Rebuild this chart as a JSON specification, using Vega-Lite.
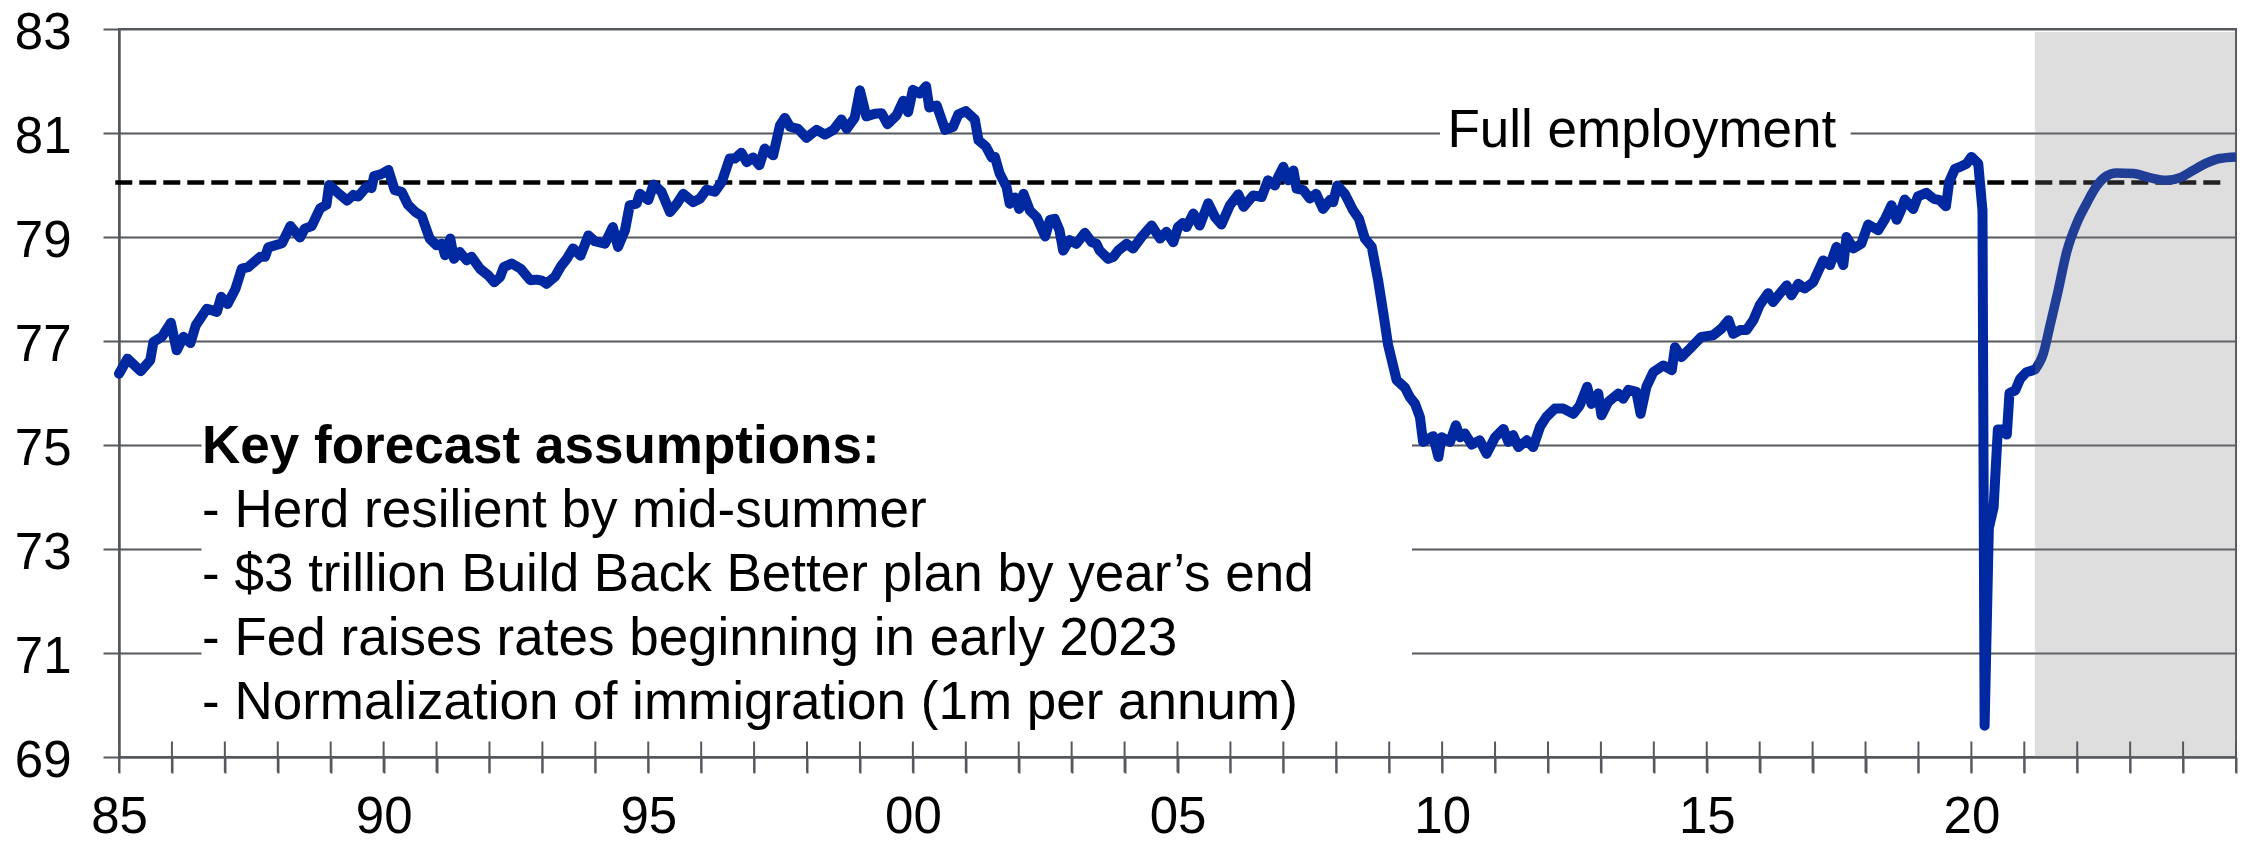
{
  "$schema": "https://vega.github.io/schema/vega-lite/v6.json",
  "width": 2117,
  "height": 728,
  "autosize": {"type": "none"},
  "padding": {"left": 119, "top": 29, "right": 16, "bottom": 86},
  "background": "white",
  "config": {"view": {"stroke": "#55595e", "strokeWidth": 2}, "font": "Liberation Sans"},
  "datasets": {
    "epop": [
      {"t":1985.0,"v":76.37},{"t":1985.16,"v":76.66},{"t":1985.41,"v":76.42},{"t":1985.59,"v":76.63},{"t":1985.65,"v":76.98},{"t":1985.81,"v":77.08},{"t":1985.98,"v":77.35},{"t":1986.09,"v":76.82},{"t":1986.22,"v":77.08},{"t":1986.35,"v":76.96},{"t":1986.45,"v":77.3},{"t":1986.66,"v":77.62},{"t":1986.85,"v":77.56},{"t":1986.93,"v":77.85},{"t":1987.05,"v":77.71},{"t":1987.2,"v":78.0},{"t":1987.32,"v":78.39},{"t":1987.44,"v":78.42},{"t":1987.67,"v":78.62},{"t":1987.76,"v":78.62},{"t":1987.82,"v":78.8},{"t":1988.08,"v":78.88},{"t":1988.24,"v":79.21},{"t":1988.42,"v":78.99},{"t":1988.51,"v":79.16},{"t":1988.64,"v":79.21},{"t":1988.8,"v":79.55},{"t":1988.92,"v":79.62},{"t":1988.97,"v":80.0},{"t":1989.11,"v":79.87},{"t":1989.31,"v":79.7},{"t":1989.43,"v":79.81},{"t":1989.52,"v":79.78},{"t":1989.68,"v":79.97},{"t":1989.77,"v":79.94},{"t":1989.82,"v":80.17},{"t":1989.96,"v":80.21},{"t":1990.09,"v":80.29},{"t":1990.21,"v":79.9},{"t":1990.34,"v":79.87},{"t":1990.46,"v":79.62},{"t":1990.59,"v":79.49},{"t":1990.72,"v":79.4},{"t":1990.87,"v":78.97},{"t":1991.0,"v":78.84},{"t":1991.1,"v":78.87},{"t":1991.16,"v":78.65},{"t":1991.26,"v":78.97},{"t":1991.33,"v":78.58},{"t":1991.44,"v":78.71},{"t":1991.57,"v":78.55},{"t":1991.66,"v":78.62},{"t":1991.82,"v":78.39},{"t":1991.98,"v":78.26},{"t":1992.09,"v":78.13},{"t":1992.2,"v":78.23},{"t":1992.27,"v":78.42},{"t":1992.42,"v":78.49},{"t":1992.59,"v":78.39},{"t":1992.77,"v":78.17},{"t":1992.89,"v":78.18},{"t":1992.99,"v":78.16},{"t":1993.08,"v":78.1},{"t":1993.24,"v":78.24},{"t":1993.36,"v":78.45},{"t":1993.46,"v":78.58},{"t":1993.58,"v":78.78},{"t":1993.72,"v":78.64},{"t":1993.87,"v":79.03},{"t":1993.99,"v":78.92},{"t":1994.18,"v":78.87},{"t":1994.33,"v":79.19},{"t":1994.43,"v":78.81},{"t":1994.56,"v":79.13},{"t":1994.65,"v":79.61},{"t":1994.78,"v":79.64},{"t":1994.84,"v":79.83},{"t":1995.0,"v":79.71},{"t":1995.1,"v":80.01},{"t":1995.25,"v":79.87},{"t":1995.41,"v":79.48},{"t":1995.54,"v":79.64},{"t":1995.66,"v":79.83},{"t":1995.85,"v":79.67},{"t":1995.98,"v":79.74},{"t":1996.1,"v":79.91},{"t":1996.26,"v":79.87},{"t":1996.39,"v":80.06},{"t":1996.54,"v":80.51},{"t":1996.64,"v":80.51},{"t":1996.76,"v":80.62},{"t":1996.86,"v":80.44},{"t":1996.98,"v":80.53},{"t":1997.1,"v":80.38},{"t":1997.2,"v":80.7},{"t":1997.36,"v":80.57},{"t":1997.49,"v":81.15},{"t":1997.58,"v":81.29},{"t":1997.68,"v":81.12},{"t":1997.83,"v":81.08},{"t":1997.99,"v":80.91},{"t":1998.18,"v":81.06},{"t":1998.34,"v":80.97},{"t":1998.5,"v":81.06},{"t":1998.65,"v":81.26},{"t":1998.75,"v":81.08},{"t":1998.9,"v":81.29},{"t":1999.0,"v":81.82},{"t":1999.12,"v":81.32},{"t":1999.28,"v":81.37},{"t":1999.41,"v":81.38},{"t":1999.52,"v":81.17},{"t":1999.69,"v":81.34},{"t":1999.82,"v":81.62},{"t":1999.91,"v":81.4},{"t":2000.0,"v":81.83},{"t":2000.13,"v":81.76},{"t":2000.25,"v":81.9},{"t":2000.31,"v":81.49},{"t":2000.45,"v":81.53},{"t":2000.61,"v":81.06},{"t":2000.76,"v":81.12},{"t":2000.86,"v":81.36},{"t":2001.0,"v":81.42},{"t":2001.17,"v":81.26},{"t":2001.24,"v":80.86},{"t":2001.38,"v":80.74},{"t":2001.49,"v":80.53},{"t":2001.55,"v":80.54},{"t":2001.64,"v":80.22},{"t":2001.77,"v":79.96},{"t":2001.83,"v":79.64},{"t":2001.93,"v":79.76},{"t":2002.01,"v":79.54},{"t":2002.09,"v":79.83},{"t":2002.21,"v":79.51},{"t":2002.34,"v":79.38},{"t":2002.5,"v":79.01},{"t":2002.59,"v":79.33},{"t":2002.68,"v":79.35},{"t":2002.77,"v":79.13},{"t":2002.84,"v":78.74},{"t":2002.96,"v":78.94},{"t":2003.09,"v":78.87},{"t":2003.25,"v":79.08},{"t":2003.38,"v":78.9},{"t":2003.47,"v":78.87},{"t":2003.53,"v":78.74},{"t":2003.69,"v":78.58},{"t":2003.79,"v":78.62},{"t":2003.88,"v":78.74},{"t":2004.04,"v":78.87},{"t":2004.16,"v":78.78},{"t":2004.32,"v":79.0},{"t":2004.51,"v":79.22},{"t":2004.67,"v":78.97},{"t":2004.79,"v":79.1},{"t":2004.92,"v":78.9},{"t":2005.01,"v":79.19},{"t":2005.1,"v":79.27},{"t":2005.17,"v":79.19},{"t":2005.3,"v":79.45},{"t":2005.42,"v":79.22},{"t":2005.58,"v":79.65},{"t":2005.71,"v":79.38},{"t":2005.83,"v":79.24},{"t":2005.99,"v":79.61},{"t":2006.15,"v":79.82},{"t":2006.25,"v":79.58},{"t":2006.43,"v":79.8},{"t":2006.59,"v":79.77},{"t":2006.71,"v":80.09},{"t":2006.84,"v":79.99},{"t":2006.9,"v":80.15},{"t":2007.0,"v":80.35},{"t":2007.09,"v":80.09},{"t":2007.19,"v":80.28},{"t":2007.25,"v":79.93},{"t":2007.38,"v":79.9},{"t":2007.5,"v":79.74},{"t":2007.62,"v":79.83},{"t":2007.75,"v":79.54},{"t":2007.88,"v":79.71},{"t":2007.94,"v":79.67},{"t":2008.02,"v":79.99},{"t":2008.16,"v":79.83},{"t":2008.32,"v":79.51},{"t":2008.43,"v":79.35},{"t":2008.54,"v":78.97},{"t":2008.67,"v":78.81},{"t":2008.79,"v":78.17},{"t":2008.89,"v":77.53},{"t":2008.98,"v":76.92},{"t":2009.14,"v":76.25},{"t":2009.3,"v":76.1},{"t":2009.39,"v":75.92},{"t":2009.49,"v":75.79},{"t":2009.58,"v":75.54},{"t":2009.64,"v":75.06},{"t":2009.83,"v":75.17},{"t":2009.93,"v":74.77},{"t":2009.99,"v":75.15},{"t":2010.15,"v":75.06},{"t":2010.26,"v":75.38},{"t":2010.34,"v":75.15},{"t":2010.43,"v":75.22},{"t":2010.56,"v":75.01},{"t":2010.71,"v":75.09},{"t":2010.84,"v":74.83},{"t":2011.0,"v":75.15},{"t":2011.16,"v":75.31},{"t":2011.25,"v":75.06},{"t":2011.34,"v":75.19},{"t":2011.44,"v":74.96},{"t":2011.6,"v":75.09},{"t":2011.72,"v":74.96},{"t":2011.85,"v":75.35},{"t":2011.97,"v":75.54},{"t":2012.13,"v":75.7},{"t":2012.29,"v":75.7},{"t":2012.48,"v":75.6},{"t":2012.6,"v":75.76},{"t":2012.74,"v":76.12},{"t":2012.82,"v":75.79},{"t":2012.95,"v":75.99},{"t":2013.01,"v":75.57},{"t":2013.14,"v":75.83},{"t":2013.33,"v":75.99},{"t":2013.42,"v":75.89},{"t":2013.52,"v":76.06},{"t":2013.67,"v":76.02},{"t":2013.75,"v":75.6},{"t":2013.86,"v":76.12},{"t":2013.99,"v":76.4},{"t":2014.18,"v":76.53},{"t":2014.34,"v":76.44},{"t":2014.4,"v":76.88},{"t":2014.52,"v":76.69},{"t":2014.68,"v":76.85},{"t":2014.9,"v":77.08},{"t":2015.12,"v":77.11},{"t":2015.28,"v":77.24},{"t":2015.41,"v":77.4},{"t":2015.5,"v":77.14},{"t":2015.63,"v":77.21},{"t":2015.75,"v":77.21},{"t":2015.88,"v":77.4},{"t":2016.0,"v":77.69},{"t":2016.16,"v":77.92},{"t":2016.25,"v":77.75},{"t":2016.38,"v":77.91},{"t":2016.51,"v":78.07},{"t":2016.6,"v":77.88},{"t":2016.73,"v":78.1},{"t":2016.85,"v":78.01},{"t":2017.01,"v":78.13},{"t":2017.2,"v":78.55},{"t":2017.33,"v":78.46},{"t":2017.45,"v":78.81},{"t":2017.58,"v":78.46},{"t":2017.64,"v":79.0},{"t":2017.77,"v":78.78},{"t":2017.92,"v":78.87},{"t":2018.05,"v":79.24},{"t":2018.24,"v":79.13},{"t":2018.37,"v":79.35},{"t":2018.49,"v":79.61},{"t":2018.59,"v":79.33},{"t":2018.68,"v":79.54},{"t":2018.74,"v":79.72},{"t":2018.9,"v":79.54},{"t":2018.99,"v":79.78},{"t":2019.15,"v":79.85},{"t":2019.28,"v":79.74},{"t":2019.4,"v":79.71},{"t":2019.52,"v":79.59},{"t":2019.58,"v":80.06},{"t":2019.69,"v":80.31},{"t":2019.81,"v":80.36},{"t":2019.91,"v":80.41},{"t":2020.0,"v":80.54},{"t":2020.13,"v":80.41},{"t":2020.21,"v":79.51},{"t":2020.25,"v":69.6},{"t":2020.33,"v":73.4},{"t":2020.42,"v":73.8},{"t":2020.5,"v":75.3},{"t":2020.58,"v":75.3},{"t":2020.67,"v":75.2},{"t":2020.72,"v":76.0},{"t":2020.83,"v":76.05},{"t":2020.92,"v":76.27},{"t":2021.04,"v":76.4},{"t":2021.17,"v":76.44},{"t":2021.2,"v":76.45},{"t":2021.36,"v":76.76},{"t":2021.48,"v":77.27},{"t":2021.64,"v":77.97},{"t":2021.8,"v":78.71},{"t":2021.99,"v":79.26},{"t":2022.18,"v":79.65},{"t":2022.36,"v":79.97},{"t":2022.55,"v":80.17},{"t":2022.74,"v":80.23},{"t":2023.06,"v":80.22},{"t":2023.37,"v":80.14},{"t":2023.69,"v":80.09},{"t":2023.94,"v":80.14},{"t":2024.19,"v":80.28},{"t":2024.44,"v":80.42},{"t":2024.69,"v":80.51},{"t":2025.0,"v":80.54}
    ],
    "years": [
      {"year":1985},{"year":1986},{"year":1987},{"year":1988},{"year":1989},{"year":1990},{"year":1991},{"year":1992},{"year":1993},{"year":1994},{"year":1995},{"year":1996},{"year":1997},{"year":1998},{"year":1999},{"year":2000},{"year":2001},{"year":2002},{"year":2003},{"year":2004},{"year":2005},{"year":2006},{"year":2007},{"year":2008},{"year":2009},{"year":2010},{"year":2011},{"year":2012},{"year":2013},{"year":2014},{"year":2015},{"year":2016},{"year":2017},{"year":2018},{"year":2019},{"year":2020},{"year":2021},{"year":2022},{"year":2023},{"year":2024},{"year":2025}
    ]
  },
  "layer": [
    {
      "data": {"values": [{}]},
      "mark": {"type": "rect", "fill": "white"},
      "encoding": {
        "x": {"datum": 1986.56, "type": "quantitative"},
        "x2": {"datum": 2009.43},
        "y": {"datum": 75.6, "type": "quantitative"},
        "y2": {"datum": 69.35}
      }
    },
    {
      "data": {"values": [{}]},
      "mark": {"type": "rect", "fill": "white"},
      "encoding": {
        "x": {"datum": 2009.96, "type": "quantitative"},
        "x2": {"datum": 2017.72},
        "y": {"datum": 81.2, "type": "quantitative"},
        "y2": {"datum": 80.8}
      }
    },
    {
      "data": {"values": [{}]},
      "mark": {"type": "rule", "color": "black", "strokeWidth": 4.5, "strokeDash": [17, 7]},
      "encoding": {
        "x": {"datum": 1984.93, "type": "quantitative"},
        "x2": {"datum": 2024.82},
        "y": {"datum": 80.05, "type": "quantitative"}
      }
    },
    {
      "data": {"name": "epop"},
      "transform": [{"filter": "datum.t <= 2021.2"}],
      "mark": {"type": "line", "color": "#0028a0", "strokeWidth": 10, "strokeJoin": "round", "strokeCap": "round"},
      "encoding": {
        "x": {
          "field": "t", "type": "quantitative", "title": null,
          "scale": {"domain": [1985, 2025], "nice": false, "zero": false},
          "axis": {
            "values": [1985,1986,1987,1988,1989,1990,1991,1992,1993,1994,1995,1996,1997,1998,1999,2000,2001,2002,2003,2004,2005,2006,2007,2008,2009,2010,2011,2012,2013,2014,2015,2016,2017,2018,2019,2020,2021,2022,2023,2024,2025],
            "labelExpr": "datum.value % 5 == 0 && datum.value < 2025 ? slice('0' + (datum.value % 100), -2) : ''",
            "grid": false,
            "tickSize": 16, "tickWidth": 2, "tickColor": "#55595e",
            "domainColor": "#55595e", "domainWidth": 2,
            "labelFont": "Liberation Sans", "labelFontSize": 51, "labelColor": "black",
            "labelBaseline": "alphabetic",
            "labelPadding": 59, "labelFlush": false, "labelOverlap": false,
            "title": null
          }
        },
        "y": {
          "field": "v", "type": "quantitative", "title": null,
          "scale": {"domain": [69, 83], "nice": false, "zero": false},
          "axis": {
            "values": [69, 71, 73, 75, 77, 79, 81, 83],
            "grid": true, "gridColor": "#55595e", "gridWidth": 2,
            "tickSize": 16, "tickWidth": 2, "tickColor": "#55595e",
            "domainColor": "#55595e", "domainWidth": 2.5,
            "labelFont": "Liberation Sans", "labelFontSize": 51, "labelColor": "black",
            "labelPadding": 32, "labelOffset": 4, "title": null
          }
        }
      }
    },
    {
      "data": {"name": "epop"},
      "transform": [{"filter": "datum.t >= 2021.2"}],
      "mark": {"type": "line", "color": "#0028a0", "strokeWidth": 9.5, "strokeJoin": "round", "strokeCap": "butt", "interpolate": "monotone"},
      "encoding": {
        "x": {"field": "t", "type": "quantitative", "title": null},
        "y": {"field": "v", "type": "quantitative", "title": null}
      }
    },
    {
      "data": {"values": [{}]},
      "mark": {"type": "rect", "fill": "#808080", "opacity": 0.26},
      "encoding": {
        "x": {"datum": 2021.2, "type": "quantitative"},
        "x2": {"datum": 2025},
        "y": {"datum": 82.94, "type": "quantitative"},
        "y2": {"datum": 69}
      }
    },
    {
      "data": {"name": "years"},
      "mark": {"type": "tick", "orient": "vertical", "color": "#55595e", "thickness": 2, "size": 31, "opacity": 1},
      "encoding": {
        "x": {"field": "year", "type": "quantitative", "title": null},
        "y": {"datum": 69, "type": "quantitative"}
      }
    },
    {
      "data": {"values": [{}]},
      "mark": {"type": "text", "text": "Key forecast assumptions:", "font": "Liberation Sans", "fontSize": 53, "fontWeight": "bold", "align": "left", "baseline": "alphabetic", "color": "black"},
      "encoding": {
        "x": {"datum": 1986.57, "type": "quantitative"},
        "y": {"datum": 74.648, "type": "quantitative"}
      }
    },
    {
      "data": {"values": [{}]},
      "mark": {"type": "text", "text": ["- Herd resilient by mid-summer", "- $3 trillion Build Back Better plan by year’s end", "- Fed raises rates beginning in early 2023", "- Normalization of immigration (1m per annum)"], "font": "Liberation Sans", "fontSize": 53, "lineHeight": 63.75, "align": "left", "baseline": "alphabetic", "color": "black"},
      "encoding": {
        "x": {"datum": 1986.57, "type": "quantitative"},
        "y": {"datum": 73.417, "type": "quantitative"}
      }
    },
    {
      "data": {"values": [{}]},
      "mark": {"type": "text", "text": "Full employment", "font": "Liberation Sans", "fontSize": 53, "align": "left", "baseline": "alphabetic", "color": "black"},
      "encoding": {
        "x": {"datum": 2010.1, "type": "quantitative"},
        "y": {"datum": 80.74, "type": "quantitative"}
      }
    }
  ]
}
